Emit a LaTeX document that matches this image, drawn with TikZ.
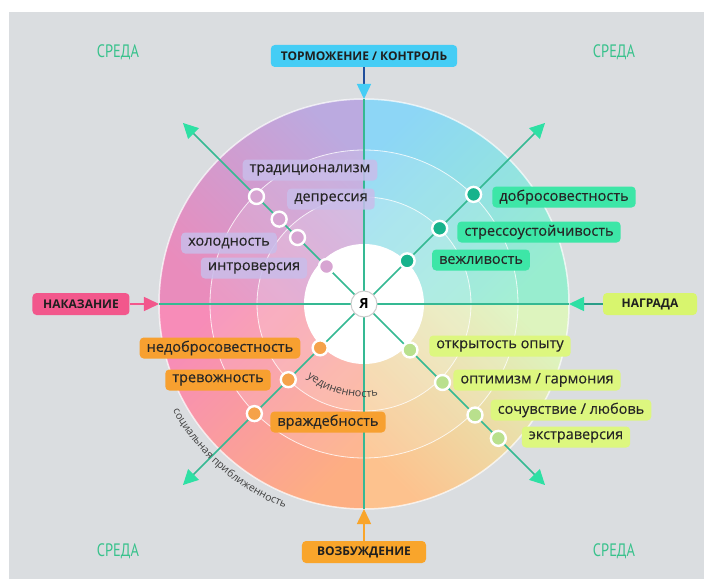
\documentclass[tikz,border=0pt]{standalone}
\usepackage{fontspec}
\setmainfont{Open Sans}
\newfontfamily\traitfont[FakeBold=0.35]{Open Sans}
\newfontfamily\sredafont[FakeStretch=0.8]{PT Sans}
\usetikzlibrary{arrows.meta,decorations.text}

\definecolor{bggrey}{HTML}{DADDE0}
\definecolor{axis}{HTML}{35B993}
\definecolor{tipgreen}{HTML}{2EE0A4}
\definecolor{sredagreen}{HTML}{38C28C}
\definecolor{nwtop}{HTML}{BBAAE0}
\definecolor{nwbot}{HTML}{E98CBC}
\definecolor{netop}{HTML}{8DD6F6}
\definecolor{nebot}{HTML}{98EDCF}
\definecolor{swtop}{HTML}{F78CB8}
\definecolor{swbot}{HTML}{FDAE82}
\definecolor{setop}{HTML}{DDF4BE}
\definecolor{sebot}{HTML}{FDC28E}
\definecolor{nwbox}{HTML}{C9BDEA}
\definecolor{nebox}{HTML}{3DE6A7}
\definecolor{sebox}{HTML}{DDF77F}
\definecolor{swbox}{HTML}{F7A030}
\definecolor{nwdot}{HTML}{D7A5D2}
\definecolor{nedot}{HTML}{17B38C}
\definecolor{sedot}{HTML}{B9E08D}
\definecolor{swdot}{HTML}{F5A24A}
\definecolor{topcyan}{HTML}{45CDF5}
\definecolor{topblue}{HTML}{1F4E9C}
\definecolor{leftpink}{HTML}{F2578C}
\definecolor{rightlime}{HTML}{D8F56E}
\definecolor{rightteal}{HTML}{2A9D88}
\definecolor{botorange}{HTML}{F9A52B}

\tikzset{
    trait/.style={rounded corners=4pt, inner xsep=7pt, inner ysep=0pt, minimum height=21pt, fill=#1, text=black!85, font=\traitfont\fontsize{14.5}{14.5}\selectfont},
    dot/.style={circle, inner sep=0pt, minimum size=15pt, draw=white, line width=2.4pt, fill=#1},
    pole/.style={rounded corners=4pt, inner xsep=10pt, inner ysep=0pt, minimum height=22pt, fill=#1, text=black!88, font=\bfseries\fontsize{12}{12}\selectfont},
    sreda/.style={text=sredagreen, font=\sredafont\fontsize{18}{18}\selectfont},
    ray/.style={draw=axis, line width=1.6pt},
}

\begin{document}
\begin{tikzpicture}[x=1pt, y=1pt]
    \useasboundingbox (-364,-275) rectangle (340,304);
    \fill[bggrey] (-355,-275) rectangle (340,292);

    % quarters of the disc
    \shade[top color=netop, bottom color=nebot, shading angle=45] (0,0) -- (0:205) arc (0:90:205) -- cycle;
    \shade[top color=nwtop, bottom color=nwbot, shading angle=-45] (0,0) -- (90:205) arc (90:180:205) -- cycle;
    \shade[top color=swtop, bottom color=swbot, shading angle=45] (0,0) -- (180:205) arc (180:270:205) -- cycle;
    \shade[top color=setop, bottom color=sebot, shading angle=-45] (0,0) -- (270:205) arc (270:360:205) -- cycle;
    \fill[white, opacity=.12] (0,0) circle (154);
    \fill[white, opacity=.15] (0,0) circle (107);
    \foreach \r in {107,154}
        \draw[white, opacity=.8, line width=.8pt] (0,0) circle (\r);
    \draw[white, opacity=.7, line width=1.5pt] (0,0) circle (205);
    \fill[white] (0,0) circle (60);

    % rays
    \coordinate (o) at (0,0);
    \foreach \a/\n in {0/e,90/n,180/w,270/s}
        \coordinate (\n) at (\a:205);
    \foreach \a/\n in {45/ne,135/nw,225/sw,315/se}
        \coordinate (\n) at (\a:256);
    \foreach \n in {e,n,w,s}
        \draw[ray] (o) -- (\n);
    \foreach \n in {ne,nw,sw,se}
        \draw[ray, -{Triangle[length=15pt, width=15pt, color=tipgreen]}] (o) -- (\n);

    % traits
    \node[trait=nwbox, fill opacity=.85, text opacity=1] (trad) at (-54,134) {традиционализм};
    \node[trait=nwbox, fill opacity=.85, text opacity=1] (depr) at (-33,105) {депрессия};
    \node[trait=nwbox, fill opacity=.85, text opacity=1] (hol) at (-135,61) {холодность};
    \node[trait=nwbox, fill opacity=.85, text opacity=1] (intr) at (-110,36) {интроверсия};
    \node[trait=nebox] (dobr) at (200,107) {добросовестность};
    \node[trait=nebox] (stress) at (175,72) {стрессоустойчивость};
    \node[trait=nebox] (vezh) at (117,44) {вежливость};
    \node[trait=sebox] (otkr) at (136,-42) {открытость опыту};
    \node[trait=sebox] (optim) at (173,-76) {оптимизм / гармония};
    \node[trait=sebox] (soch) at (207,-106) {сочувствие / любовь};
    \node[trait=sebox] (ekstr) at (212,-133) {экстраверсия};
    \node[trait=swbox] (nedobr) at (-144,-44) {недобросовестность};
    \node[trait=swbox] (trev) at (-146,-76) {тревожность};
    \node[trait=swbox] (vrazh) at (-36,-118) {враждебность};

    \foreach[count=\i] \r in {152,120,94,53}
        \node[dot=nwdot] (nwd\i) at (135:\r) {};
    \foreach[count=\i] \r in {155,107,61}
        \node[dot=nedot] (ned\i) at (45:\r) {};
    \foreach[count=\i] \r in {65,111,157,190}
        \node[dot=sedot] (sed\i) at (-45:\r) {};
    \foreach[count=\i] \r in {62,107,155}
        \node[dot=swdot] (swd\i) at (-135:\r) {};

    \node[circle, draw=black!20, fill=white, line width=1pt, minimum size=26pt, inner sep=0pt,
        font=\bfseries\fontsize{14}{14}\selectfont] (ya) at (o) {Я};

    % poles
    \node[pole=topcyan] (torm) at (0,248) {ТОРМОЖЕНИЕ / КОНТРОЛЬ};
    \node[pole=leftpink, minimum width=97pt] (nak) at (-283,0) {НАКАЗАНИЕ};
    \node[pole=rightlime, minimum width=94pt] (nagr) at (286,0) {НАГРАДА};
    \node[pole=botorange, minimum width=124pt] (vozb) at (0,-248) {ВОЗБУЖДЕНИЕ};
    \draw[topblue, line width=1.5pt, -{Triangle[length=15pt, width=14pt, color=topcyan]}] (torm) -- (n);
    \draw[leftpink, line width=1.5pt, -{Triangle[length=15pt, width=14pt]}] (nak) -- (w);
    \draw[rightteal, line width=1.5pt, -{Triangle[length=15pt, width=14pt, color=tipgreen]}] (nagr) -- (e);
    \draw[botorange, line width=1.5pt, -{Triangle[length=15pt, width=14pt]}] (vozb) -- (s);

    % environment
    \node[sreda] (sr1) at (-246,252) {СРЕДА};
    \node[sreda] (sr2) at (250,252) {СРЕДА};
    \node[sreda] (sr3) at (-246,-247) {СРЕДА};
    \node[sreda] (sr4) at (250,-247) {СРЕДА};

    % curved captions
    \path[decorate, decoration={text along path, text align=center, text color=black!75,
        text={|\fontsize{11}{11}\selectfont|уединенность}}] (-135:93) arc (-135:-74:93);
    \path[decorate, decoration={text along path, text align=center, text color=black!75,
        text={|\fontsize{10.5}{10.5}\selectfont|социальная приближенность}}] (-160:219) arc (-160:-102:219);
\end{tikzpicture}
\end{document}
